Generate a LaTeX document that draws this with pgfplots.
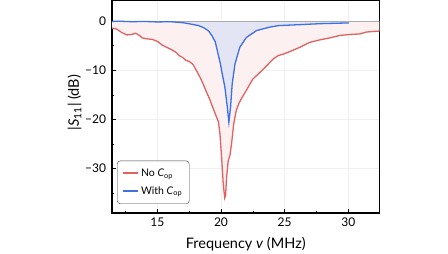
\documentclass[border=0pt]{standalone}
\usepackage{fontspec}
\setmainfont{Lato}
\usepackage{pgfplots}
\pgfplotsset{compat=1.18}
\definecolor{redline}{RGB}{226,98,98}
\definecolor{blueline}{RGB}{60,112,228}
\definecolor{redfill}{RGB}{253,240,240}
\definecolor{bluefill}{RGB}{228,229,244}
\begin{document}
\begin{tikzpicture}
\begin{axis}[
  at={(0,0)}, anchor=south west,
  scale only axis, width=267.5pt, height=212.5pt,
  xmin=11.44, xmax=32.45, ymin=-39.1, ymax=4.2,
  xtick={15,20,25,30}, minor xtick={12.5,17.5,22.5,27.5,32.5},
  ytick={-30,-20,-10,0}, yticklabels={−30,−20,−10,0},
  minor ytick={-35,-25,-15,-5},
  tick align=inside, xtick pos=bottom, ytick pos=left,
  major tick length=4pt, minor tick length=2.5pt,
  every tick/.style={black, line width=0.6pt},
  grid=major, major grid style={gray!12, line width=0.6pt},
  axis line style={black, line width=1.2pt},
  /pgf/number format/assume math mode=true,
  tick label style={font=\fontsize{12}{14}\selectfont},
  xticklabel style={yshift=-1.5pt},
  yticklabel style={xshift=-2.5pt},
  xlabel={Frequency \textit{v} (MHz)},
  ylabel={|\textit{S}\textsubscript{11}| (dB)},
  label style={font=\fontsize{14.5}{17}\selectfont},
  xlabel style={at={(axis description cs:0.5,-0.1647)}, anchor=base},
  ylabel style={at={(axis description cs:-0.1234,0.52)}, anchor=base},
  legend style={at={(0.019,0.043)}, anchor=south west, draw=black!75,
    rounded corners=3pt, font=\fontsize{10.5}{13}\selectfont, inner xsep=5pt, inner ysep=6pt,
    row sep=4.5pt},
  legend cell align=left,
]
\addlegendimage{legend image code/.code={\draw[draw=redline, line width=1.8pt] (0pt,0.6pt) -- (15pt,0.6pt);}}
\addlegendentry{No \textit{C}\textsubscript{op}}
\addlegendimage{legend image code/.code={\draw[draw=blueline, line width=1.8pt] (0pt,0pt) -- (15pt,0pt);}}
\addlegendentry{With \textit{C}\textsubscript{op}}
\addplot[draw=none, fill=redfill, forget plot] coordinates {
(11.44,-1.4) (11.8,-1.6) (12.2,-2.3) (12.6,-2.8) (13.0,-2.7) (13.3,-2.45) (13.6,-2.9) (13.8,-3.4)
(14.2,-3.6) (14.6,-3.7) (15.0,-4.1) (15.4,-4.9) (15.8,-5.4) (16.15,-5.85) (16.5,-6.4) (16.7,-7.0)
(17.0,-7.4) (17.2,-7.9) (17.56,-8.3) (17.8,-8.8) (18.1,-10.2) (18.35,-11.4) (18.6,-12.8) (18.87,-14.5)
(19.1,-15.8) (19.27,-17.0) (19.45,-18.2) (19.66,-19.6) (19.8,-20.5) (19.92,-23.0) (20.05,-27.8)
(20.18,-33.2) (20.29,-36.0) (20.36,-35.5) (20.44,-31.8) (20.57,-28.4) (20.7,-27.4) (20.83,-25.0)
(21.0,-20.9) (21.2,-18.2) (21.4,-16.8) (21.6,-15.8) (21.99,-14.1) (22.5,-11.8) (23.2,-10.1)
(23.84,-8.4) (24.1,-7.7) (24.5,-7.0) (24.9,-6.7) (25.5,-6.1) (26.2,-5.3) (26.98,-4.3) (27.77,-3.8)
(28.55,-3.4) (29.34,-2.9) (30.12,-2.7) (30.9,-2.6) (31.43,-2.2) (32.45,-2.0)
} \closedcycle;
\addplot[draw=none, fill=bluefill, forget plot] coordinates {
(11.44,-0.05) (12,0.0) (13,-0.1) (14,-0.05) (15,-0.15) (16,-0.1) (17,-0.3) (17.46,-0.5) (18.25,-0.9)
(18.7,-1.4) (19.03,-2.0) (19.3,-3.0) (19.55,-4.2) (19.8,-7.0) (19.94,-8.5) (20.05,-10.1) (20.31,-13.5)
(20.5,-17.6) (20.62,-20.6) (20.75,-17.6) (20.88,-12.8) (21.1,-8.7) (21.48,-5.3) (22.0,-3.3) (22.8,-1.9)
(23.84,-1.2) (24.5,-0.9) (26.2,-0.7) (27.8,-0.5) (30.05,-0.35)
} \closedcycle;
\addplot[gray!65, line width=1pt, forget plot] coordinates {(11.44,0) (32.45,0)};
\addplot[redline, line width=1.3pt, forget plot] coordinates {
(11.44,-1.4) (11.8,-1.6) (12.2,-2.3) (12.6,-2.8) (13.0,-2.7) (13.3,-2.45) (13.6,-2.9) (13.8,-3.4)
(14.2,-3.6) (14.6,-3.7) (15.0,-4.1) (15.4,-4.9) (15.8,-5.4) (16.15,-5.85) (16.5,-6.4) (16.7,-7.0)
(17.0,-7.4) (17.2,-7.9) (17.56,-8.3) (17.8,-8.8) (18.1,-10.2) (18.35,-11.4) (18.6,-12.8) (18.87,-14.5)
(19.1,-15.8) (19.27,-17.0) (19.45,-18.2) (19.66,-19.6) (19.8,-20.5) (19.92,-23.0) (20.05,-27.8)
(20.18,-33.2) (20.29,-36.0) (20.36,-35.5) (20.44,-31.8) (20.57,-28.4) (20.7,-27.4) (20.83,-25.0)
(21.0,-20.9) (21.2,-18.2) (21.4,-16.8) (21.6,-15.8) (21.99,-14.1) (22.5,-11.8) (23.2,-10.1)
(23.84,-8.4) (24.1,-7.7) (24.5,-7.0) (24.9,-6.7) (25.5,-6.1) (26.2,-5.3) (26.98,-4.3) (27.77,-3.8)
(28.55,-3.4) (29.34,-2.9) (30.12,-2.7) (30.9,-2.6) (31.43,-2.2) (32.45,-2.0)
};
\addplot[blueline, line width=1.3pt, forget plot] coordinates {
(11.44,-0.05) (12,0.0) (13,-0.1) (14,-0.05) (15,-0.15) (16,-0.1) (17,-0.3) (17.46,-0.5) (18.25,-0.9)
(18.7,-1.4) (19.03,-2.0) (19.3,-3.0) (19.55,-4.2) (19.8,-7.0) (19.94,-8.5) (20.05,-10.1) (20.31,-13.5)
(20.5,-17.6) (20.62,-20.6) (20.75,-17.6) (20.88,-12.8) (21.1,-8.7) (21.48,-5.3) (22.0,-3.3) (22.8,-1.9)
(23.84,-1.2) (24.5,-0.9) (26.2,-0.7) (27.8,-0.5) (30.05,-0.35)
};
\end{axis}
\useasboundingbox (-112pt,-39.5pt) rectangle (336pt,212.5pt);
\end{tikzpicture}
\end{document}
